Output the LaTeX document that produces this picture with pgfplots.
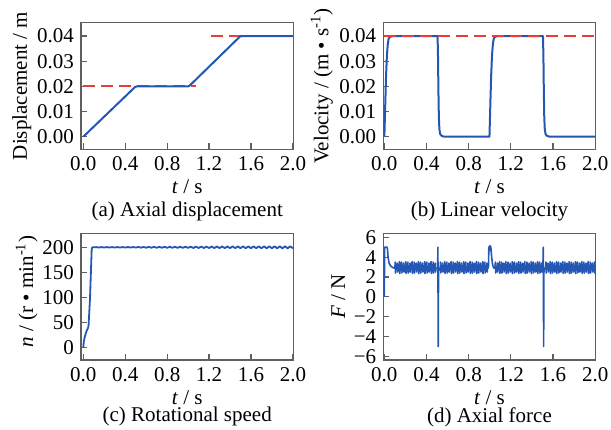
\documentclass[border=0pt]{standalone}
\usepackage{pgfplots}
\pgfplotsset{compat=1.18}
\usepackage{fontspec}
\setmainfont{Liberation Serif}

\definecolor{lineblue}{RGB}{36,86,180}
\definecolor{dashred}{RGB}{232,62,58}
\definecolor{framegray}{RGB}{95,95,95}

\tikzset{panelcap/.style={font=\fontsize{10.5}{12}\selectfont, anchor=center}}

\pgfplotsset{
  panel/.style={
    width=106.2pt, height=63.3pt, scale only axis,
    axis line style={framegray, line width=0.7pt},
    tick style={framegray, line width=0.6pt},
    tick align=inside, xtick pos=left, ytick pos=left,
    major tick length=3pt,
    scaled y ticks=false, scaled x ticks=false,
    xmax=2.005,
    xtick={0,0.4,0.8,1.2,1.6,2.0},
    xticklabels={0.0,0.4,0.8,1.2,1.6,2.0},
    ticklabel style={font=\fontsize{10.5}{12}\selectfont},
    xticklabel style={anchor=center, yshift=-7.2pt},
    yticklabel style={anchor=east},
    label style={font=\fontsize{10.5}{12}\selectfont},
    xlabel={\textit{t} / s},
    xlabel style={at={(axis description cs:0.5,-0.295)}, anchor=center},
    clip=false,
  },
  blueline/.style={lineblue, line width=1pt, no markers, line join=round},
  reddash/.style={dashred, line width=1pt, dash pattern=on 6pt off 3pt, no markers},
}

\begin{document}
\begin{tikzpicture}
\path[use as bounding box] (0,0) rectangle (305.5pt,-214.5pt);

% (a) axial displacement
\begin{axis}[panel, at={(40.5pt,-11.35pt)}, anchor=north west,
  xmin=-0.022, ymin=-0.005, ymax=0.0453,
  ytick={0,0.01,0.02,0.03,0.04},
  yticklabels={0.00,0.01,0.02,0.03,0.04},
  ylabel={Displacement / m},
  ylabel style={at={(axis description cs:-0.279,0.5)}, anchor=center},
]
\addplot[reddash] coordinates {(0,0.02) (1.08,0.02)};
\addplot[reddash] coordinates {(1.22,0.04) (2.0,0.04)};
\addplot[blueline] coordinates {(0,0) (0.495,0.0198) (0.515,0.02) (1.0,0.02) (1.015,0.0203) (1.495,0.0398) (1.515,0.04) (2.0,0.04)};
\node[panelcap] at (rel axis cs:0.5,-0.49) {(a) Axial displacement};
\end{axis}

% (b) linear velocity
\begin{axis}[panel, at={(191.65pt,-11.35pt)}, anchor=north west,
  xmin=-0.01, ymin=-0.005, ymax=0.0453,
  ytick={0,0.01,0.02,0.03,0.04},
  yticklabels={0.00,0.01,0.02,0.03,0.04},
  ylabel={Velocity / (m • s\textsuperscript{-1})},
  ylabel style={at={(axis description cs:-0.290,0.5)}, anchor=center},
]
\addplot[blueline] coordinates {
(0,0) (0.008,0.012) (0.016,0.024) (0.024,0.032) (0.032,0.0365) (0.040,0.0388) (0.050,0.0396) (0.070,0.0399) (0.100,0.04)
(0.505,0.04) (0.509,0.032) (0.513,0.018) (0.517,0.008) (0.522,0.003) (0.530,0.001) (0.545,0.0003) (0.570,0) (0.997,0)
(1.005,0.012) (1.013,0.024) (1.021,0.032) (1.029,0.0365) (1.037,0.0388) (1.047,0.0396) (1.067,0.0399) (1.100,0.04)
(1.505,0.04) (1.509,0.032) (1.513,0.018) (1.517,0.008) (1.522,0.003) (1.530,0.001) (1.545,0.0003) (1.570,0) (2.0,0)};
\addplot[reddash] coordinates {(0,0.04) (2.0,0.04)};
\node[panelcap] at (rel axis cs:0.5,-0.49) {(b) Linear velocity};
\end{axis}

% (c) rotational speed
\begin{axis}[panel, at={(40.5pt,-116.65pt)}, anchor=north west,
  xmin=-0.022, ymin=-25, ymax=228,
  ytick={0,50,100,150,200},
  yticklabels={0,50,100,150,200},
  ylabel={\textit{n} / (r • min\textsuperscript{-1})},
  ylabel style={at={(axis description cs:-0.256,0.54)}, anchor=center},
]
\addplot[blueline, line width=0.9pt] coordinates {
(0,0) (0.005,12) (0.015,22) (0.030,32) (0.045,39) (0.050,43) (0.064,98) (0.080,196) (0.086,200)
(0.100,200.0) (0.125,200.4) (0.150,199.6) (0.175,200.4) (0.200,199.6) (0.225,200.5) (0.250,199.6) (0.275,200.4)
(0.300,199.5) (0.325,200.5) (0.350,199.6) (0.375,200.5) (0.400,199.5) (0.425,200.6) (0.450,199.5) (0.475,200.6)
(0.500,199.4) (0.525,200.8) (0.550,199.3) (0.575,200.8) (0.600,199.2) (0.625,200.9) (0.650,199.2) (0.675,200.9)
(0.700,199.1) (0.725,201.0) (0.750,199.1) (0.775,201.0) (0.800,199.0) (0.825,201.1) (0.850,199.0) (0.875,201.1)
(0.900,198.9) (0.925,201.2) (0.950,198.9) (0.975,201.3) (1.000,198.8) (1.025,201.3) (1.050,198.7) (1.075,201.4)
(1.100,198.7) (1.125,201.5) (1.150,198.6) (1.175,201.5) (1.200,198.6) (1.225,201.6) (1.250,198.5) (1.275,201.6)
(1.300,198.5) (1.325,201.7) (1.350,198.4) (1.375,201.7) (1.400,198.4) (1.425,201.8) (1.450,198.3) (1.475,201.8)
(1.500,198.3) (1.525,201.9) (1.550,198.2) (1.575,201.9) (1.600,198.2) (1.625,202.0) (1.650,198.1) (1.675,202.0)
(1.700,198.1) (1.725,202.1) (1.750,198.0) (1.775,202.1) (1.800,198.0) (1.825,202.2) (1.850,197.9) (1.875,202.2)
(1.900,197.9) (1.925,202.2) (1.950,197.9) (1.975,202.2) (2.000,198.0)};
\node[panelcap] at (rel axis cs:0.5,-0.45) {(c) Rotational speed};
\end{axis}

% (d) axial force
\begin{axis}[panel, at={(191.65pt,-116.65pt)}, anchor=north west,
  xmin=-0.01, ymin=-6.35, ymax=6.4,
  ytick={-6,-4,-2,0,2,4,6},
  yticklabels={−6,−4,−2,0,2,4,6},
  ylabel={\textit{F} / N},
  ylabel style={at={(axis description cs:-0.212,0.5)}, anchor=center},
]
\addplot[blueline, line width=0.8pt] coordinates {
(0,0) (0.002,5.0) (0.025,5.0) (0.030,4.8) (0.035,4.0) (0.045,3.4) (0.060,3.1) (0.080,2.95) (0.095,2.9)
(0.100,2.9)(0.103,3.5)(0.106,2.4)(0.109,2.9) (0.120,2.85)(0.123,3.4)(0.126,2.5)(0.129,2.9)
(0.140,2.9)(0.143,3.55)(0.146,2.35)(0.149,2.85) (0.160,2.9)(0.163,3.5)(0.166,2.4)(0.169,2.9)
(0.180,2.85)(0.183,3.4)(0.186,2.5)(0.189,2.9) (0.200,2.9)(0.203,3.55)(0.206,2.35)(0.209,2.85)
(0.220,2.9)(0.223,3.5)(0.226,2.4)(0.229,2.9) (0.240,2.85)(0.243,3.4)(0.246,2.5)(0.249,2.9)
(0.260,2.9)(0.263,3.55)(0.266,2.35)(0.269,2.85) (0.280,2.9)(0.283,3.5)(0.286,2.4)(0.289,2.9)
(0.300,2.85)(0.303,3.4)(0.306,2.5)(0.309,2.9) (0.320,2.9)(0.323,3.55)(0.326,2.35)(0.329,2.85)
(0.340,2.9)(0.343,3.5)(0.346,2.4)(0.349,2.9) (0.360,2.85)(0.363,3.4)(0.366,2.5)(0.369,2.9)
(0.380,2.9)(0.383,3.55)(0.386,2.35)(0.389,2.85) (0.400,2.9)(0.403,3.5)(0.406,2.4)(0.409,2.9)
(0.420,2.85)(0.423,3.4)(0.426,2.5)(0.429,2.9) (0.440,2.9)(0.443,3.55)(0.446,2.35)(0.449,2.85)
(0.460,2.9)(0.463,3.5)(0.466,2.4)(0.469,2.9) (0.480,2.85)(0.483,3.4)(0.486,2.5)(0.489,2.9)
(0.500,2.9)(0.506,2.9)(0.508,5.0)(0.511,-5.0)(0.514,2.5)(0.518,2.9)
(0.530,2.9)(0.533,3.5)(0.536,2.4)(0.539,2.9) (0.550,2.85)(0.553,3.4)(0.556,2.5)(0.559,2.9)
(0.570,2.9)(0.573,3.55)(0.576,2.35)(0.579,2.85) (0.590,2.9)(0.593,3.5)(0.596,2.4)(0.599,2.9)
(0.610,2.85)(0.613,3.4)(0.616,2.5)(0.619,2.9) (0.630,2.9)(0.633,3.55)(0.636,2.35)(0.639,2.85)
(0.650,2.9)(0.653,3.5)(0.656,2.4)(0.659,2.9) (0.670,2.85)(0.673,3.4)(0.676,2.5)(0.679,2.9)
(0.690,2.9)(0.693,3.55)(0.696,2.35)(0.699,2.85) (0.710,2.9)(0.713,3.5)(0.716,2.4)(0.719,2.9)
(0.730,2.85)(0.733,3.4)(0.736,2.5)(0.739,2.9) (0.750,2.9)(0.753,3.55)(0.756,2.35)(0.759,2.85)
(0.770,2.9)(0.773,3.5)(0.776,2.4)(0.779,2.9) (0.790,2.85)(0.793,3.4)(0.796,2.5)(0.799,2.9)
(0.810,2.9)(0.813,3.55)(0.816,2.35)(0.819,2.85) (0.830,2.9)(0.833,3.5)(0.836,2.4)(0.839,2.9)
(0.850,2.85)(0.853,3.4)(0.856,2.5)(0.859,2.9) (0.870,2.9)(0.873,3.55)(0.876,2.35)(0.879,2.85)
(0.890,2.9)(0.893,3.5)(0.896,2.4)(0.899,2.9) (0.910,2.85)(0.913,3.4)(0.916,2.5)(0.919,2.9)
(0.930,2.9)(0.933,3.55)(0.936,2.35)(0.939,2.85) (0.950,2.9)(0.953,3.5)(0.956,2.4)(0.959,2.9)
(0.970,2.85)(0.973,3.4)(0.976,2.5)(0.979,2.9)
(0.984,2.9)(0.988,3.1)(0.991,4.9)(0.995,5.1)(1.000,4.7)(1.004,5.15)(1.010,5.0)(1.018,4.0)(1.026,3.3)(1.034,3.0)(1.040,2.9)
(1.050,2.9)(1.053,3.5)(1.056,2.4)(1.059,2.9) (1.070,2.85)(1.073,3.4)(1.076,2.5)(1.079,2.9)
(1.090,2.9)(1.093,3.55)(1.096,2.35)(1.099,2.85) (1.110,2.9)(1.113,3.5)(1.116,2.4)(1.119,2.9)
(1.130,2.85)(1.133,3.4)(1.136,2.5)(1.139,2.9) (1.150,2.9)(1.153,3.55)(1.156,2.35)(1.159,2.85)
(1.170,2.9)(1.173,3.5)(1.176,2.4)(1.179,2.9) (1.190,2.85)(1.193,3.4)(1.196,2.5)(1.199,2.9)
(1.210,2.9)(1.213,3.55)(1.216,2.35)(1.219,2.85) (1.230,2.9)(1.233,3.5)(1.236,2.4)(1.239,2.9)
(1.250,2.85)(1.253,3.4)(1.256,2.5)(1.259,2.9) (1.270,2.9)(1.273,3.55)(1.276,2.35)(1.279,2.85)
(1.290,2.9)(1.293,3.5)(1.296,2.4)(1.299,2.9) (1.310,2.85)(1.313,3.4)(1.316,2.5)(1.319,2.9)
(1.330,2.9)(1.333,3.55)(1.336,2.35)(1.339,2.85) (1.350,2.9)(1.353,3.5)(1.356,2.4)(1.359,2.9)
(1.370,2.85)(1.373,3.4)(1.376,2.5)(1.379,2.9) (1.390,2.9)(1.393,3.55)(1.396,2.35)(1.399,2.85)
(1.410,2.9)(1.413,3.5)(1.416,2.4)(1.419,2.9) (1.430,2.85)(1.433,3.4)(1.436,2.5)(1.439,2.9)
(1.450,2.9)(1.453,3.55)(1.456,2.35)(1.459,2.85) (1.470,2.9)(1.473,3.5)(1.476,2.4)(1.479,2.9)
(1.490,2.85)(1.493,3.4)(1.496,2.5)(1.499,2.9)
(1.504,2.9)(1.508,5.0)(1.511,-5.0)(1.514,2.5)(1.518,2.9)
(1.530,2.9)(1.533,3.5)(1.536,2.4)(1.539,2.9) (1.550,2.85)(1.553,3.4)(1.556,2.5)(1.559,2.9)
(1.570,2.9)(1.573,3.55)(1.576,2.35)(1.579,2.85) (1.590,2.9)(1.593,3.5)(1.596,2.4)(1.599,2.9)
(1.610,2.85)(1.613,3.4)(1.616,2.5)(1.619,2.9) (1.630,2.9)(1.633,3.55)(1.636,2.35)(1.639,2.85)
(1.650,2.9)(1.653,3.5)(1.656,2.4)(1.659,2.9) (1.670,2.85)(1.673,3.4)(1.676,2.5)(1.679,2.9)
(1.690,2.9)(1.693,3.55)(1.696,2.35)(1.699,2.85) (1.710,2.9)(1.713,3.5)(1.716,2.4)(1.719,2.9)
(1.730,2.85)(1.733,3.4)(1.736,2.5)(1.739,2.9) (1.750,2.9)(1.753,3.55)(1.756,2.35)(1.759,2.85)
(1.770,2.9)(1.773,3.5)(1.776,2.4)(1.779,2.9) (1.790,2.85)(1.793,3.4)(1.796,2.5)(1.799,2.9)
(1.810,2.9)(1.813,3.55)(1.816,2.35)(1.819,2.85) (1.830,2.9)(1.833,3.5)(1.836,2.4)(1.839,2.9)
(1.850,2.85)(1.853,3.4)(1.856,2.5)(1.859,2.9) (1.870,2.9)(1.873,3.55)(1.876,2.35)(1.879,2.85)
(1.890,2.9)(1.893,3.5)(1.896,2.4)(1.899,2.9) (1.910,2.85)(1.913,3.4)(1.916,2.5)(1.919,2.9)
(1.930,2.9)(1.933,3.55)(1.936,2.35)(1.939,2.85) (1.950,2.9)(1.953,3.5)(1.956,2.4)(1.959,2.9)
(1.970,2.85)(1.973,3.4)(1.976,2.5)(1.979,2.9) (1.990,2.9)(1.993,3.5)(1.996,2.4)(2.000,2.9)};
\node[panelcap] at (rel axis cs:0.5,-0.45) {(d) Axial force};
\end{axis}
\end{tikzpicture}
\end{document}
